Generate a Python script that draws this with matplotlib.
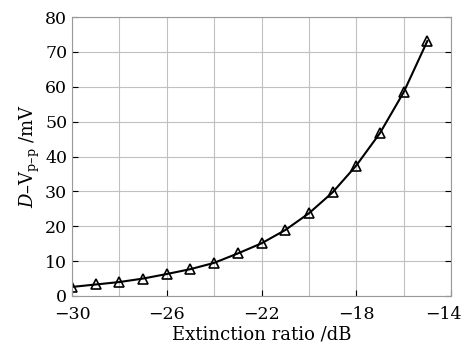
import matplotlib
matplotlib.use("Agg")
import matplotlib.pyplot as plt
import matplotlib.transforms as mtransforms

# extinction ratio (dB) and D-Vpp (mV)
er = [-30, -29, -28, -27, -26, -25, -24, -23, -22, -21, -20, -19, -18, -17, -16, -15]
dvpp = [2.6, 3.3, 4.0, 5.0, 6.3, 7.7, 9.5, 12.2, 15.1, 18.9, 23.7, 29.7, 37.4, 46.7, 58.4, 73.1]

xticks = [-30, -26, -22, -18, -14]
yticks = [0, 10, 20, 30, 40, 50, 60, 70, 80]

plt.rcParams['font.family'] = 'DejaVu Serif'
plt.rcParams['mathtext.fontset'] = 'dejavuserif'

fig = plt.figure(figsize=(4.67, 3.46), dpi=100)
ax = fig.add_axes([72/467, 1-296/346, (451-72)/467, (296-17)/346])

ax.plot(er, dvpp, color='black', lw=1.5, marker='^', ms=6.5,
        mfc='none', mec='black', mew=1.2)

ax.set_xlim(-30, -14)
ax.set_ylim(0, 80)
ax.set_xticks(xticks)
ax.set_xticklabels(['\u2212' + str(-v) for v in xticks])
ax.set_xticks(range(-30, -13, 2), minor=True)
ax.set_yticks(yticks)
ax.grid(True, which='both', color='#c0c0c0', lw=0.8)
ax.tick_params(which='both', direction='in', labelsize=12.5, top=False, right=True, length=4)
ax.tick_params(axis='x', pad=7)
ax.tick_params(which='minor', length=0)
for s in ax.spines.values():
    s.set_color('#999999')
    s.set_linewidth(0.8)

# pull the last x label in a little so it stays inside the figure
last = ax.get_xticklabels()[-1]
last.set_transform(last.get_transform() + mtransforms.ScaledTranslation(-8/100, 0, fig.dpi_scale_trans))

ax.set_xlabel('Extinction ratio /dB', fontsize=13, labelpad=2)
ylab = '$D$\u2013V$_{\\mathrm{p\u2013p}}$ /mV'
ax.set_ylabel(ylab, fontsize=13, labelpad=2)

fig.savefig('out.png', dpi=100)
